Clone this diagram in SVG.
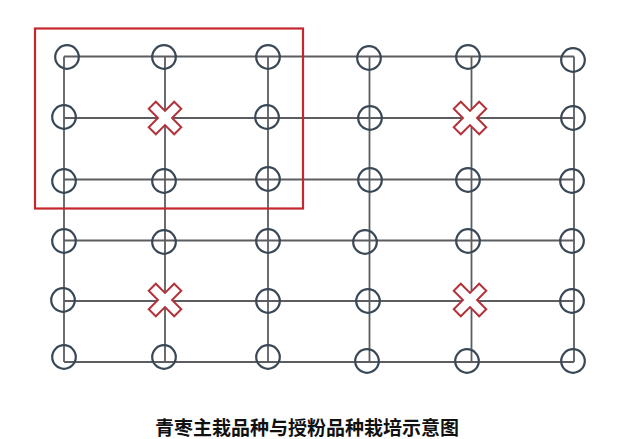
<svg xmlns="http://www.w3.org/2000/svg" width="640" height="439" viewBox="0 0 640 439">
<defs>
<style>
.grid{stroke:#5b5d60;stroke-width:1.8;fill:none}
.tree{fill:none;stroke:#394856;stroke-width:2.2}
.pol{fill:#fff;stroke:#b3323a;stroke-width:2;stroke-linejoin:miter}
.frame{fill:none;stroke:#c4272d;stroke-width:2.2}
.title{font-family:"Noto Sans CJK SC","Noto Sans CJK JP",sans-serif;font-weight:bold;font-size:19px;fill:#111}
</style>
<symbol id="c" overflow="visible"><circle cx="0" cy="0" r="11.8" class="tree"/></symbol>
<path id="x" d="M-5,-18 L5,-18 L5,-5 L18,-5 L18,5 L5,5 L5,18 L-5,18 L-5,5 L-18,5 L-18,-5 L-5,-5 Z" transform="rotate(45)" class="pol"/>
</defs>
<rect width="640" height="439" fill="#fff"/>
<g id="connectors">
<path class="grid" d="M64,56.5 H574 M64,118 H574 M64,179.5 H574 M64,240.5 H574 M64,301 H574 M64,362 H574 M64,56.5 V362 M165,56.5 V362 M268,56.5 V362 M369.5,56.5 V362 M471.5,56.5 V362 M574,56.5 V362"/>
</g>
<g id="frame"><rect class="frame" x="35" y="28.5" width="268" height="180"/></g>
<g id="trees">
<g id="r1c1"><use href="#c" x="67" y="57"/></g>
<g id="r1c2"><use href="#c" x="164" y="57"/></g>
<g id="r1c3"><use href="#c" x="268" y="57"/></g>
<g id="r1c4"><use href="#c" x="369" y="58"/></g>
<g id="r1c5"><use href="#c" x="468" y="57"/></g>
<g id="r1c6"><use href="#c" x="573" y="60"/></g>
<g id="r2c1"><use href="#c" x="64" y="117"/></g>
<g id="r2c3"><use href="#c" x="267" y="117"/></g>
<g id="r2c4"><use href="#c" x="370" y="118"/></g>
<g id="r2c6"><use href="#c" x="573" y="118"/></g>
<g id="r3c1"><use href="#c" x="64" y="181"/></g>
<g id="r3c2"><use href="#c" x="164" y="181"/></g>
<g id="r3c3"><use href="#c" x="268" y="179"/></g>
<g id="r3c4"><use href="#c" x="370" y="180"/></g>
<g id="r3c5"><use href="#c" x="468" y="180"/></g>
<g id="r3c6"><use href="#c" x="572" y="181"/></g>
<g id="r4c1"><use href="#c" x="64" y="241"/></g>
<g id="r4c2"><use href="#c" x="164" y="242"/></g>
<g id="r4c3"><use href="#c" x="268" y="241"/></g>
<g id="r4c4"><use href="#c" x="365" y="242"/></g>
<g id="r4c5"><use href="#c" x="468" y="241"/></g>
<g id="r4c6"><use href="#c" x="572" y="241"/></g>
<g id="r5c1"><use href="#c" x="63" y="300"/></g>
<g id="r5c3"><use href="#c" x="268" y="301"/></g>
<g id="r5c4"><use href="#c" x="368" y="301"/></g>
<g id="r5c6"><use href="#c" x="572" y="301"/></g>
<g id="r6c1"><use href="#c" x="64" y="357"/></g>
<g id="r6c2"><use href="#c" x="164" y="357"/></g>
<g id="r6c3"><use href="#c" x="268" y="357"/></g>
<g id="r6c4"><use href="#c" x="367" y="361"/></g>
<g id="r6c5"><use href="#c" x="467" y="361"/></g>
<g id="r6c6"><use href="#c" x="573" y="361"/></g>
</g>
<g id="pollinators">
<g id="p1"><use href="#x" x="165" y="118"/></g>
<g id="p2"><use href="#x" x="470" y="118"/></g>
<g id="p3"><use href="#x" x="165" y="300"/></g>
<g id="p4"><use href="#x" x="470" y="300"/></g>
</g>
<text class="title" x="307" y="435" text-anchor="middle">青枣主栽品种与授粉品种栽培示意图</text>
</svg>
